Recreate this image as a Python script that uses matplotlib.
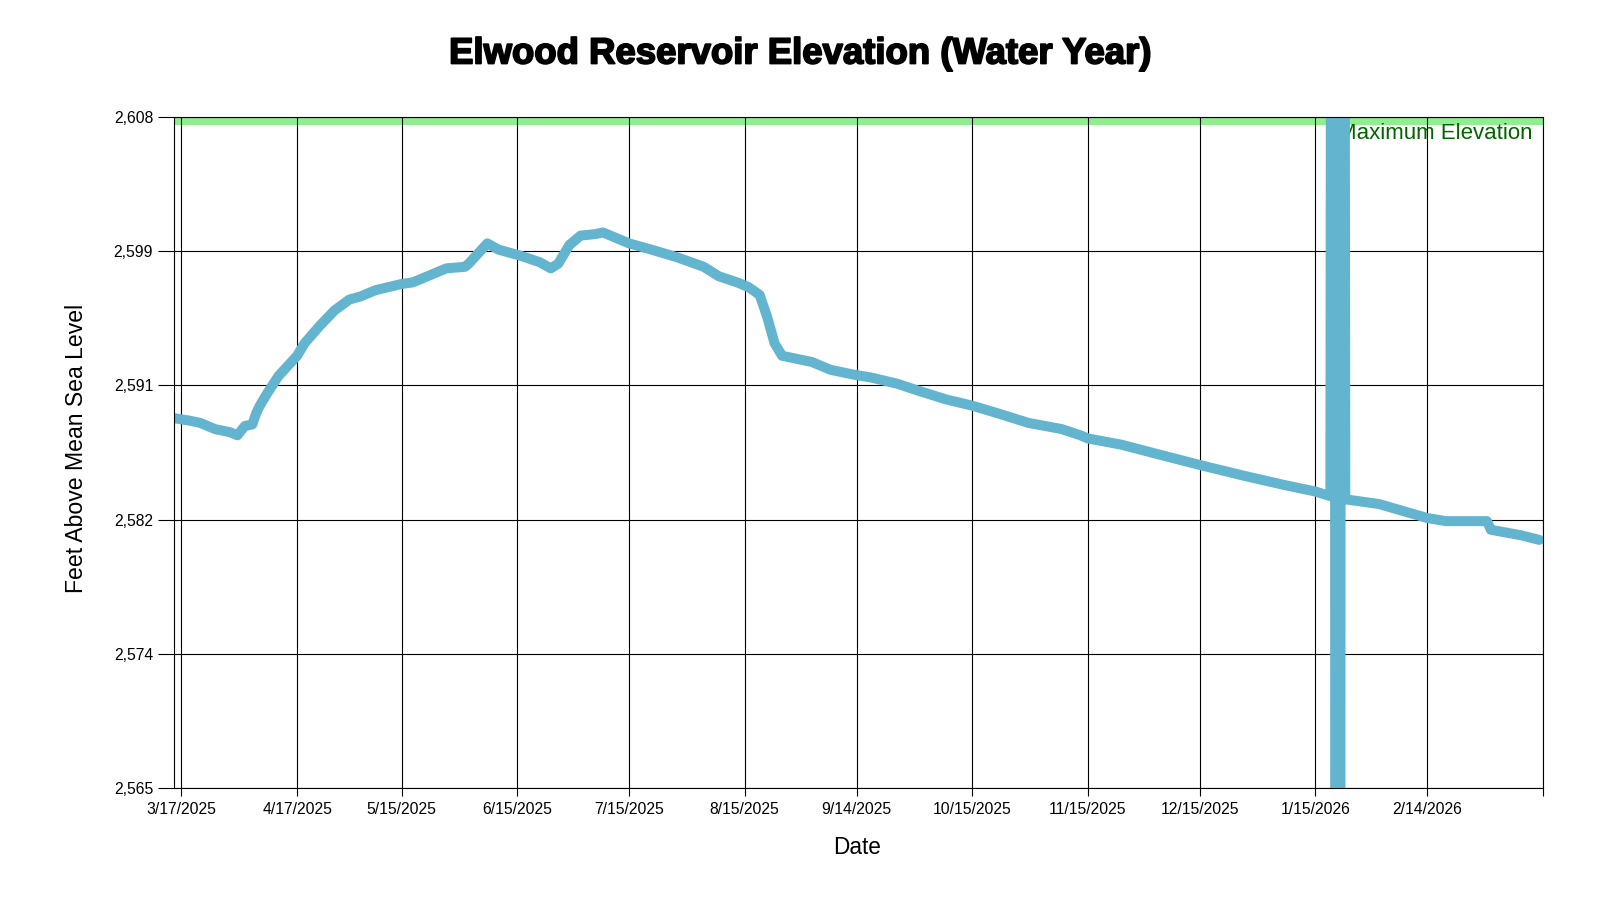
import matplotlib
matplotlib.use("Agg")
import matplotlib.pyplot as plt
import matplotlib.patheffects as pe
import pandas as pd
import numpy as np

# ---- data ----
dates = ["2025-03-15", "2025-03-19", "2025-03-22", "2025-03-26", "2025-03-30", "2025-04-01",
         "2025-04-03", "2025-04-05", "2025-04-06", "2025-04-07", "2025-04-09", "2025-04-12",
         "2025-04-17", "2025-04-19", "2025-04-23", "2025-04-27", "2025-05-01", "2025-05-04",
         "2025-05-08", "2025-05-15", "2025-05-18", "2025-05-22", "2025-05-27", "2025-06-01",
         "2025-06-02", "2025-06-07", "2025-06-10", "2025-06-16", "2025-06-21", "2025-06-24",
         "2025-06-26", "2025-06-29", "2025-07-02", "2025-07-06", "2025-07-08", "2025-07-12",
         "2025-07-15", "2025-07-21", "2025-07-28", "2025-08-04", "2025-08-08", "2025-08-13",
         "2025-08-16", "2025-08-19", "2025-08-21", "2025-08-23", "2025-08-25", "2025-08-29",
         "2025-09-02", "2025-09-07", "2025-09-13", "2025-09-18", "2025-09-25", "2025-09-30",
         "2025-10-08", "2025-10-15", "2025-10-22", "2025-10-30", "2025-11-08", "2025-11-13",
         "2025-11-15", "2025-11-24", "2025-12-02", "2025-12-15", "2025-12-27", "2026-01-07",
         "2026-01-15", "2026-01-19", "2026-01-20", "2026-01-21", "2026-01-22", "2026-01-23",
         "2026-02-01", "2026-02-14", "2026-02-19", "2026-03-02", "2026-03-03", "2026-03-11",
         "2026-03-16"]
elevation = [2588.7, 2588.55, 2588.4, 2588.0, 2587.8, 2587.6,
             2588.2, 2588.3, 2589.0, 2589.5, 2590.3, 2591.4,
             2592.7, 2593.5, 2594.6, 2595.6, 2596.3, 2596.5,
             2596.9, 2597.3, 2597.4, 2597.8, 2598.3, 2598.4,
             2598.6, 2599.9, 2599.5, 2599.1, 2598.7, 2598.3,
             2598.6, 2599.8, 2600.4, 2600.5, 2600.6, 2600.2,
             2599.9, 2599.5, 2599.0, 2598.4, 2597.8, 2597.4,
             2597.1, 2596.6, 2595.2, 2593.5, 2592.7, 2592.5,
             2592.3, 2591.8, 2591.5, 2591.3, 2590.9, 2590.5,
             2589.9, 2589.5, 2589.0, 2588.4, 2588.0, 2587.6,
             2587.4, 2587.0, 2586.5, 2585.7, 2585.0, 2584.4,
             2584.0, 2583.7, 2800.0, 2000.0, 2800.0, 2583.5,
             2583.2, 2582.3, 2582.1, 2582.1, 2581.55, 2581.2,
             2580.9]

max_elevation = 2608.0
y_min, y_max = 2565.0, 2608.0
tick_dates = ["2025-03-17", "2025-04-17", "2025-05-15", "2025-06-15", "2025-07-15",
              "2025-08-15", "2025-09-14", "2025-10-15", "2025-11-15", "2025-12-15",
              "2026-01-15", "2026-02-14", "2026-03-17"]
tick_labels = ["3/17/2025", "4/17/2025", "5/15/2025", "6/15/2025", "7/15/2025",
               "8/15/2025", "9/14/2025", "10/15/2025", "11/15/2025", "12/15/2025",
               "1/15/2026", "2/14/2026", ""]
x_start, x_end = "2025-03-15", "2026-03-17"

# ---- plot ----
plt.rcParams['font.family'] = ['Liberation Sans', 'DejaVu Sans']
fig = plt.figure(figsize=(16, 9), dpi=100)
ax = fig.add_axes([174/1600, 1-788/900, (1543-174)/1600, (788-117)/900])

x = pd.to_datetime(dates)
ax.axhspan(max_elevation - 0.5, max_elevation, color='#90ee90', zorder=1, lw=0)
ax.text(1533/1600, 1-139/900, "Maximum Elevation", transform=fig.transFigure,
        ha='right', va='baseline', color='#006400', fontsize=16, zorder=2)
ax.plot(x, elevation, color='#63b4cf', lw=7.2, solid_joinstyle='round',
        solid_capstyle='round', zorder=3)

ax.set_xlim(pd.Timestamp(x_start), pd.Timestamp(x_end))
ax.set_ylim(y_min, y_max)
yt = np.linspace(y_min, y_max, 6)
ax.set_yticks(yt)
ax.set_yticklabels([f"{v:,.0f}" for v in yt])
ax.set_xticks(pd.to_datetime(tick_dates))
ax.set_xticklabels(tick_labels)

ax.grid(True, color='black', lw=0.8, zorder=2.5)
ax.set_axisbelow(False)
for s in ax.spines.values():
    s.set_color('black')
    s.set_linewidth(0.8)
    s.set_zorder(4)
ax.tick_params(axis='y', length=11.5, width=0.8, pad=3.5, labelsize=11.3)
ax.tick_params(axis='x', length=6, width=0.8, pad=4, labelsize=11.3)

fig.text(0.5, 1-63.5/900, "Elwood Reservoir Elevation (Water Year)", ha='center',
         va='baseline', fontsize=26.3, fontweight='bold',
         path_effects=[pe.withStroke(linewidth=1.3, foreground='black')])
fig.text(77/1600, 452/900, "Feet Above Mean Sea Level", rotation=90,
         ha='center', va='center', fontsize=16.6)
fig.text(857/1600, 1-848/900, "Date", ha='center', va='center', fontsize=16.3)

fig.savefig("out.png", dpi=100)
